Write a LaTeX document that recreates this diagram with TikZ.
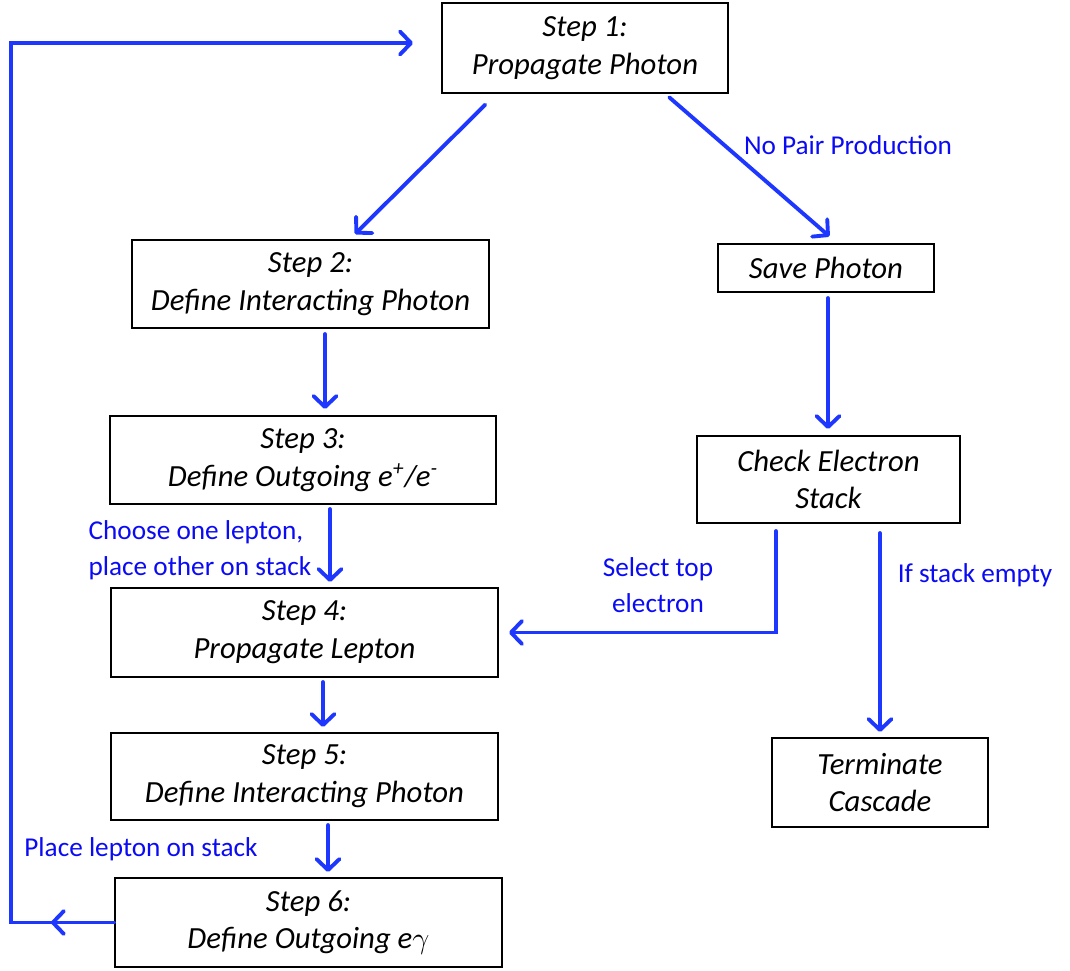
\documentclass[tikz,border=0pt]{standalone}
\usepackage{fontspec}
\setmainfont{Carlito}
\usepackage{tikz}
\usetikzlibrary{arrows.meta}
\definecolor{flowblue}{RGB}{30,55,255}
\definecolor{labelblue}{RGB}{10,10,245}

\begin{document}
\begin{tikzpicture}[
    stepbox/.style={draw=black, line width=1.2pt, align=center, inner sep=0pt,
        font=\fontsize{17.5}{21.5}\selectfont\itshape},
    flow/.style={draw=flowblue, line width=2.2pt, line cap=round,
        -{Straight Barb[length=2.2mm,width=4.6mm,round]}},
    note/.style={text=labelblue, font=\fontsize{15.5}{20.5}\selectfont}
    ]
        \useasboundingbox (0,0) rectangle (21.4,-19.4);

        % Boxes, left column
        \node[stepbox, minimum width=5.72cm, minimum height=1.8cm] (s1) at (11.7,-0.96) {Step 1:\\Propagate Photon};
        \node[stepbox, minimum width=7.14cm, minimum height=1.76cm] (s2) at (6.21,-5.68) {Step 2:\\Define Interacting Photon};
        \node[stepbox, minimum width=7.72cm, minimum height=1.76cm] (s3) at (6.06,-9.2) {Step 3:\\Define Outgoing e\textsuperscript{+}/e\textsuperscript{-}};
        \node[stepbox, minimum width=7.74cm, minimum height=1.78cm] (s4) at (6.09,-12.65) {Step 4:\\Propagate Lepton};
        \node[stepbox, minimum width=7.74cm, minimum height=1.74cm] (s5) at (6.09,-15.53) {Step 5:\\Define Interacting Photon};
        \node[stepbox, minimum width=7.74cm, minimum height=1.78cm] (s6) at (6.17,-18.45) {Step 6:\\Define Outgoing e$\gamma$};

        % Boxes, right column
        \node[stepbox, minimum width=4.32cm, minimum height=0.96cm] (sp) at (16.52,-5.36) {Save Photon};
        \node[stepbox, minimum width=5.26cm, minimum height=1.74cm] (ces) at (16.57,-9.59) {Check Electron\\Stack};
        \node[stepbox, minimum width=4.32cm, minimum height=1.78cm] (tc) at (17.6,-15.65) {Terminate\\Cascade};

        % Arrows
        \draw[flow, shorten <=0.3cm, shorten >=0.14cm] ([xshift=-1.78cm]s1.south) -- ([xshift=0.79cm]s2.north);
        \draw[flow, shorten <=0.1cm, shorten >=0.2cm] ([xshift=1.61cm]s1.south) -- ([xshift=0.22cm]sp.north);
        \draw[flow, shorten <=0.1cm, shorten >=0.12cm] ([xshift=0.29cm]s2.south) -- ([xshift=0.29cm]s2.south |- s3.north);
        \draw[flow, shorten <=0.08cm, shorten >=0.1cm] ([xshift=0.54cm]s3.south) -- ([xshift=0.54cm]s3.south |- s4.north);
        \draw[flow, shorten <=0.08cm, shorten >=0.1cm] ([xshift=0.37cm]s4.south) -- ([xshift=0.37cm]s4.south |- s5.north);
        \draw[flow, shorten <=0.08cm, shorten >=0.1cm] ([xshift=0.47cm]s5.south) -- ([xshift=0.47cm]s5.south |- s6.north);
        \draw[flow, shorten <=0.1cm, shorten >=0.12cm] ([xshift=0.04cm]sp.south) -- ([xshift=0.04cm]sp.south |- ces.north);
        \draw[flow, shorten <=0.18cm, shorten >=0.1cm] ([xshift=1.03cm]ces.south) -- ([xshift=1.03cm]ces.south |- tc.north);
        \draw[flow, shorten <=0.14cm, shorten >=0.2cm] ([xshift=-1.05cm]ces.south) |- (s4.east);

        % Loop back to step 1
        \draw[flow] (s6.west) -- ++(-1.26,0);
        \draw[flow, shorten >=0.56cm] ([xshift=-1.26cm]s6.west) -- ([xshift=-2.06cm]s6.west) |- ([yshift=0.1cm]s1.west);

        % Labels
        \node[note] (lnp) at (16.96,-2.9) {No Pair Production};
        \node[note, align=left] (lch) at (4.0,-11.0) {Choose one lepton,\\place other on stack};
        \node[note, align=center] (lsel) at (13.16,-11.7) {Select top\\electron};
        \node[note] (lemp) at (19.5,-11.5) {If stack empty};
        \node[note] (lpl) at (2.82,-16.98) {Place lepton on stack};
\end{tikzpicture}
\end{document}
